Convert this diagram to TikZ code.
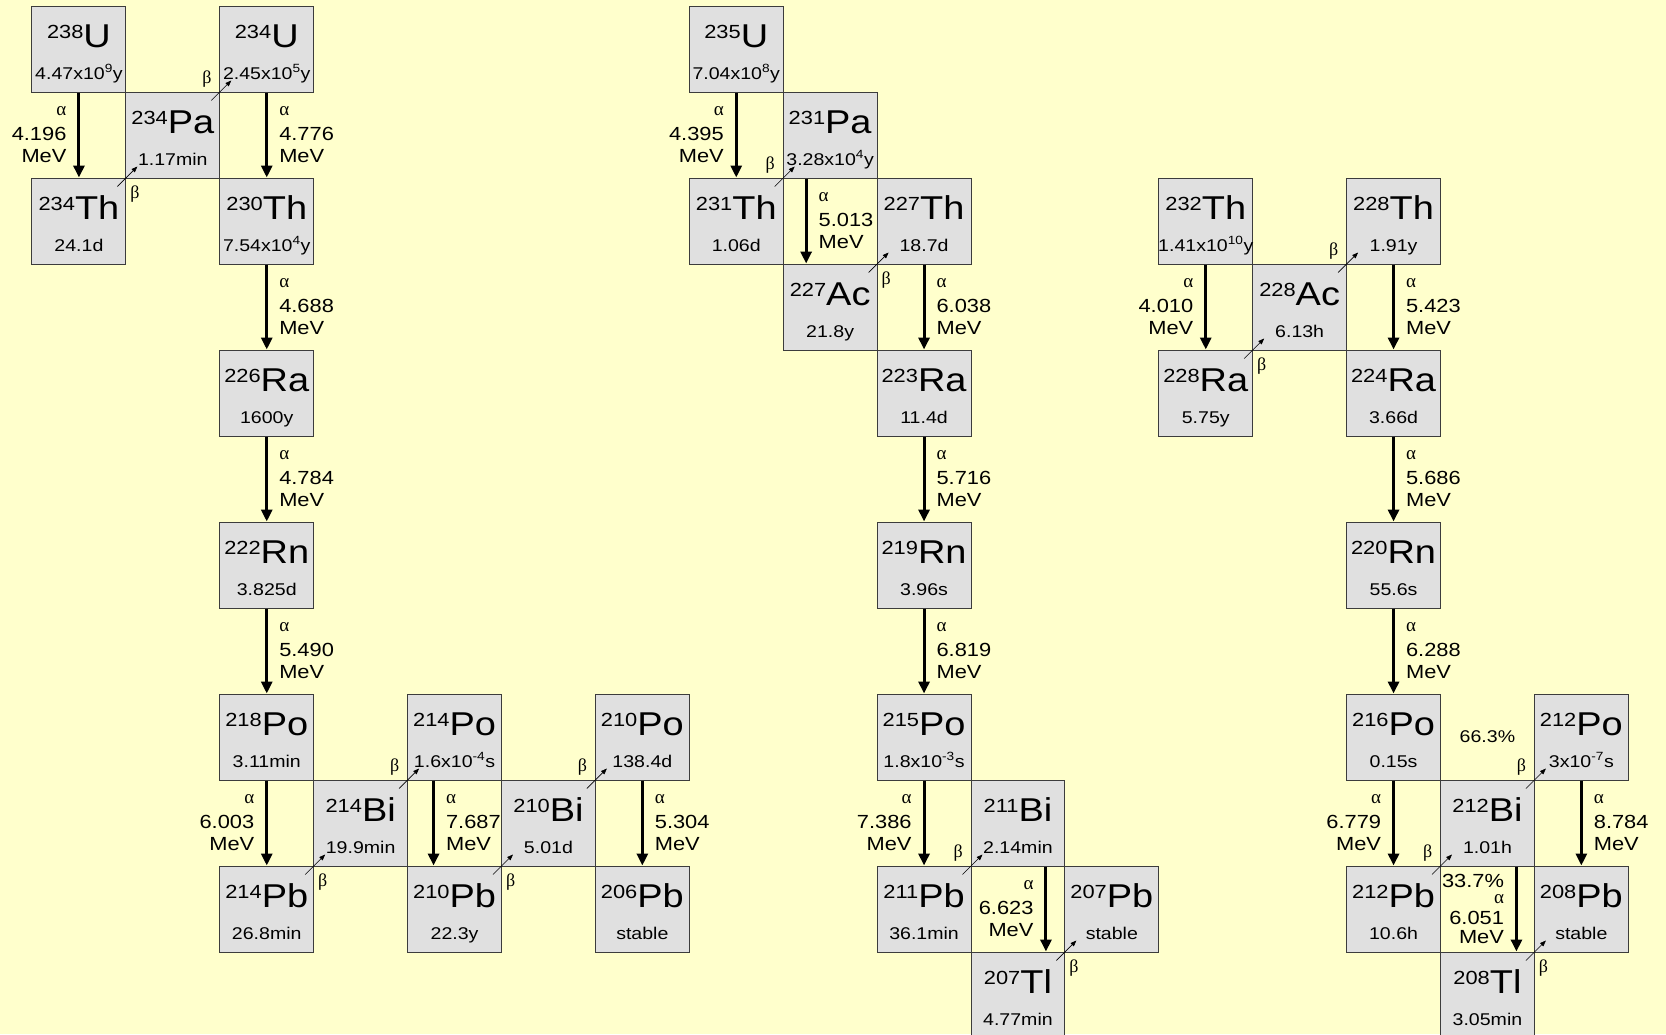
\documentclass[tikz,border=0pt]{standalone}
\usepackage{fontspec}
\setmainfont{Liberation Sans}[FakeStretch=1.15]
\newfontfamily\greekfont{Liberation Serif}
\usetikzlibrary{arrows.meta,calc}

\definecolor{paper}{RGB}{255,255,204}
\definecolor{cellfill}{RGB}{224,224,224}
\definecolor{cellline}{RGB}{60,60,60}

\newcommand{\mass}[1]{\raisebox{9pt}{\fontsize{19}{19}\selectfont #1}}
\newcommand{\nuc}[3]{\vbox to 86pt{\offinterlineskip
  \vskip 41pt\hbox to 93.9pt{\hss\smash{\fontsize{33}{33}\selectfont\mass{#1}#2}\hss}
  \vskip 32pt\hbox to 93.9pt{\hss\smash{\fontsize{17}{17}\selectfont #3}\hss}\vss}}
\newcommand{\asym}{{\greekfont\fontsize{19}{19}\selectfont α}}
\newcommand{\energy}[1]{\asym\\[3pt]#1\\MeV}

\tikzset{
  iso/.style={draw=cellline, fill=cellfill, line width=1pt,
    minimum width=93.9pt, minimum height=86pt, inner sep=0pt},
  adecay/.style={->, line width=3pt},
  aleft/.style={anchor=east, xshift=-11pt, align=right, inner sep=0pt,
    font=\fontsize{19}{22}\selectfont},
  aright/.style={anchor=west, xshift=11pt, align=left, inner sep=0pt,
    font=\fontsize{19}{22}\selectfont},
  bdecay/.style={-{Triangle[width=4.5pt,length=6pt]}, line width=0.6pt},
  bup/.style={pos=0.43, xshift=-13pt, yshift=13pt, inner sep=0pt,
    font=\greekfont\fontsize{18}{18}\selectfont},
  bdown/.style={pos=0.43, xshift=9pt, yshift=-16pt, inner sep=0pt,
    font=\greekfont\fontsize{18}{18}\selectfont},
  pct/.style={font=\fontsize{17}{17}\selectfont, inner sep=0pt}
}

\begin{document}
\begin{tikzpicture}[x=93.9pt, y=-86pt, >={Triangle[width=11pt,length=12pt]}]
\useasboundingbox (-78.95pt,49pt) rectangle (1587.05pt,-985pt);
\clip (-78.95pt,49pt) rectangle (1587.05pt,-985pt);
\fill[paper] (-78.95pt,49pt) rectangle (1587.05pt,-985pt);

\node[iso] (U238) at (0,0) {\nuc{238}{U}{4.47x10\textsuperscript{9}y}};
\node[iso] (Pa234) at (1,1) {\nuc{234}{Pa}{1.17min}};
\node[iso] (U234) at (2,0) {\nuc{234}{U}{2.45x10\textsuperscript{5}y}};
\node[iso] (Th234) at (0,2) {\nuc{234}{Th}{24.1d}};
\node[iso] (Th230) at (2,2) {\nuc{230}{Th}{7.54x10\textsuperscript{4}y}};
\node[iso] (Ra226) at (2,4) {\nuc{226}{Ra}{1600y}};
\node[iso] (Rn222) at (2,6) {\nuc{222}{Rn}{3.825d}};
\node[iso] (Po218) at (2,8) {\nuc{218}{Po}{3.11min}};
\node[iso] (Bi214) at (3,9) {\nuc{214}{Bi}{19.9min}};
\node[iso] (Po214) at (4,8) {\nuc{214}{Po}{1.6x10\textsuperscript{-4}s}};
\node[iso] (Pb214) at (2,10) {\nuc{214}{Pb}{26.8min}};
\node[iso] (Pb210) at (4,10) {\nuc{210}{Pb}{22.3y}};
\node[iso] (Bi210) at (5,9) {\nuc{210}{Bi}{5.01d}};
\node[iso] (Po210) at (6,8) {\nuc{210}{Po}{138.4d}};
\node[iso] (Pb206) at (6,10) {\nuc{206}{Pb}{stable}};

\node[iso] (U235) at (7,0) {\nuc{235}{U}{7.04x10\textsuperscript{8}y}};
\node[iso] (Pa231) at (8,1) {\nuc{231}{Pa}{3.28x10\textsuperscript{4}y}};
\node[iso] (Th231) at (7,2) {\nuc{231}{Th}{1.06d}};
\node[iso] (Th227) at (9,2) {\nuc{227}{Th}{18.7d}};
\node[iso] (Ac227) at (8,3) {\nuc{227}{Ac}{21.8y}};
\node[iso] (Ra223) at (9,4) {\nuc{223}{Ra}{11.4d}};
\node[iso] (Rn219) at (9,6) {\nuc{219}{Rn}{3.96s}};
\node[iso] (Po215) at (9,8) {\nuc{215}{Po}{1.8x10\textsuperscript{-3}s}};
\node[iso] (Bi211) at (10,9) {\nuc{211}{Bi}{2.14min}};
\node[iso] (Pb211) at (9,10) {\nuc{211}{Pb}{36.1min}};
\node[iso] (Pb207) at (11,10) {\nuc{207}{Pb}{stable}};
\node[iso] (Tl207) at (10,11) {\nuc{207}{Tl}{4.77min}};

\node[iso] (Th232) at (12,2) {\nuc{232}{Th}{1.41x10\textsuperscript{10}y}};
\node[iso] (Ac228) at (13,3) {\nuc{228}{Ac}{6.13h}};
\node[iso] (Th228) at (14,2) {\nuc{228}{Th}{1.91y}};
\node[iso] (Ra228) at (12,4) {\nuc{228}{Ra}{5.75y}};
\node[iso] (Ra224) at (14,4) {\nuc{224}{Ra}{3.66d}};
\node[iso] (Rn220) at (14,6) {\nuc{220}{Rn}{55.6s}};
\node[iso] (Po216) at (14,8) {\nuc{216}{Po}{0.15s}};
\node[iso] (Bi212) at (15,9) {\nuc{212}{Bi}{1.01h}};
\node[iso] (Po212) at (16,8) {\nuc{212}{Po}{3x10\textsuperscript{-7}s}};
\node[iso] (Pb212) at (14,10) {\nuc{212}{Pb}{10.6h}};
\node[iso] (Pb208) at (16,10) {\nuc{208}{Pb}{stable}};
\node[iso] (Tl208) at (15,11) {\nuc{208}{Tl}{3.05min}};
\node[pct] (branch663) at (15,8) {66.3\%};

\path[adecay] (U238) edge node[aleft]{\energy{4.196}} (Th234);
\path[adecay] (U234) edge node[aright]{\energy{4.776}} (Th230);
\path[adecay] (Th230) edge node[aright]{\energy{4.688}} (Ra226);
\path[adecay] (Ra226) edge node[aright]{\energy{4.784}} (Rn222);
\path[adecay] (Rn222) edge node[aright]{\energy{5.490}} (Po218);
\path[adecay] (Po218) edge node[aleft]{\energy{6.003}} (Pb214);
\path[adecay] ([xshift=-21pt]Po214.south) edge node[aright]{\energy{7.687}} ([xshift=-21pt]Pb210.north);
\path[adecay] (Po210) edge node[aright]{\energy{5.304}} (Pb206);

\path[adecay] (U235) edge node[aleft]{\energy{4.395}} (Th231);
\path[adecay] ([xshift=-24pt]Pa231.south) edge node[aright]{\energy{5.013}} ([xshift=-24pt]Ac227.north);
\path[adecay] (Th227) edge node[aright]{\energy{6.038}} (Ra223);
\path[adecay] (Ra223) edge node[aright]{\energy{5.716}} (Rn219);
\path[adecay] (Rn219) edge node[aright]{\energy{6.819}} (Po215);
\path[adecay] (Po215) edge node[aleft]{\energy{7.386}} (Pb211);
\path[adecay] ([xshift=28pt]Bi211.south) edge node[aleft]{\energy{6.623}} ([xshift=28pt]Tl207.north);

\path[adecay] (Th232) edge node[aleft]{\energy{4.010}} (Ra228);
\path[adecay] (Th228) edge node[aright]{\energy{5.423}} (Ra224);
\path[adecay] (Ra224) edge node[aright]{\energy{5.686}} (Rn220);
\path[adecay] (Rn220) edge node[aright]{\energy{6.288}} (Po216);
\path[adecay] (Po216) edge node[aleft]{\energy{6.779}} (Pb212);
\path[adecay] (Po212) edge node[aright]{\energy{8.784}} (Pb208);
\path[adecay] ([xshift=29pt]Bi212.south) edge node[aleft]{33.7\%\\[-6pt]\asym\\[-1pt]6.051\\[-3pt]MeV} ([xshift=29pt]Tl208.north);

\path[bdecay] ($(Th234.north east)+(-9pt,-9pt)$) edge node[bdown]{β} ($(Pa234.south west)+(12pt,12pt)$);
\path[bdecay] ($(Pa234.north east)+(-9pt,-9pt)$) edge node[bup]{β} ($(U234.south west)+(12pt,12pt)$);
\path[bdecay] ($(Pb214.north east)+(-9pt,-9pt)$) edge node[bdown]{β} ($(Bi214.south west)+(12pt,12pt)$);
\path[bdecay] ($(Bi214.north east)+(-9pt,-9pt)$) edge node[bup]{β} ($(Po214.south west)+(12pt,12pt)$);
\path[bdecay] ($(Pb210.north east)+(-9pt,-9pt)$) edge node[bdown]{β} ($(Bi210.south west)+(12pt,12pt)$);
\path[bdecay] ($(Bi210.north east)+(-9pt,-9pt)$) edge node[bup]{β} ($(Po210.south west)+(12pt,12pt)$);

\path[bdecay] ($(Th231.north east)+(-9pt,-9pt)$) edge node[bup]{β} ($(Pa231.south west)+(12pt,12pt)$);
\path[bdecay] ($(Ac227.north east)+(-9pt,-9pt)$) edge node[bdown]{β} ($(Th227.south west)+(12pt,12pt)$);
\path[bdecay] ($(Pb211.north east)+(-9pt,-9pt)$) edge node[bup]{β} ($(Bi211.south west)+(12pt,12pt)$);
\path[bdecay] ($(Tl207.north east)+(-9pt,-9pt)$) edge node[bdown]{β} ($(Pb207.south west)+(12pt,12pt)$);

\path[bdecay] ($(Ra228.north east)+(-9pt,-9pt)$) edge node[bdown]{β} ($(Ac228.south west)+(12pt,12pt)$);
\path[bdecay] ($(Ac228.north east)+(-9pt,-9pt)$) edge node[bup]{β} ($(Th228.south west)+(12pt,12pt)$);
\path[bdecay] ($(Pb212.north east)+(-9pt,-9pt)$) edge node[bup]{β} ($(Bi212.south west)+(12pt,12pt)$);
\path[bdecay] ($(Bi212.north east)+(-9pt,-9pt)$) edge node[bup]{β} ($(Po212.south west)+(12pt,12pt)$);
\path[bdecay] ($(Tl208.north east)+(-9pt,-9pt)$) edge node[bdown]{β} ($(Pb208.south west)+(12pt,12pt)$);
\end{tikzpicture}
\end{document}
